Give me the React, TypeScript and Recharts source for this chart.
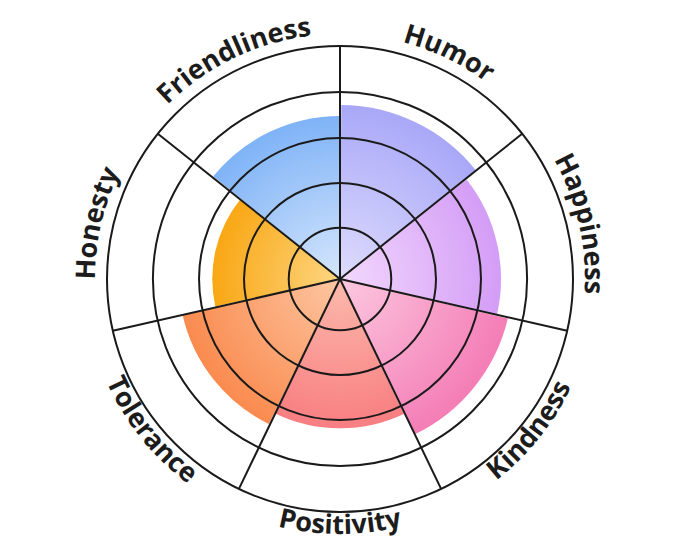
import {
  RadialBarChart,
  RadialBar,
  PolarAngleAxis,
  PolarRadiusAxis,
  PolarGrid,
  Sector,
} from "recharts";

const traits = ["Humor", "Happiness", "Kindness", "Positivity", "Tolerance", "Honesty", "Friendliness"];
const scores = [74.7, 69.1, 74, 64.1, 69.3, 54.8, 70];
const outerColors = ["#a9a8f8", "#d49df6", "#f47db6", "#f87e82", "#fa8b4f", "#f9a714", "#7fb3f7"];
const innerColors = ["#dedcfc", "#f2d8fd", "#fcc9e0", "#fcbaac", "#fdc6a2", "#fdd682", "#d6e6fc"];
// grid rings, same 0-100 units as the scores
const rings = [22, 41.2, 60.5, 80.3, 100];

const CX = 340;
const CY = 279;
const OUTER = 233;
const RAD = Math.PI / 180;

const rows = traits.map((name, i) => ({ name, value: scores[i] }));
const step = 360 / traits.length;
const spokes = traits.map((_, i) => 90 - i * step);

const pt = (cx: number, cy: number, r: number, a: number) =>
  `${cx + r * Math.cos(a * RAD)} ${cy - r * Math.sin(a * RAD)}`;

// label written along the rim; upper half reads clockwise, lower half counter-clockwise
function CurvedTick(props: any) {
  const { payload, index } = props;
  const cx = props.cx ?? CX;
  const cy = props.cy ?? CY;
  const a = payload.coordinate;
  const lower = Math.sin(a * RAD) < -0.2;
  const r = lower ? 255 : 245;
  const h = 60;
  const d = lower
    ? `M ${pt(cx, cy, r, a - h)} A ${r} ${r} 0 0 0 ${pt(cx, cy, r, a + h)}`
    : `M ${pt(cx, cy, r, a + h)} A ${r} ${r} 0 0 1 ${pt(cx, cy, r, a - h)}`;
  const id = `rim-label-${index}`;
  return (
    <g>
      <path id={id} d={d} fill="none" stroke="none" />
      <text fontFamily="'Open Sans', sans-serif" fontWeight={700} fontSize={27} fill="#1c1c1c">
        <textPath href={`#${id}`} startOffset="50%" textAnchor="middle">
          {payload.value}
        </textPath>
      </text>
    </g>
  );
}

function Segment(props: any) {
  const { cx, cy, outerRadius, index } = props;
  const id = `seg-grad-${index}`;
  return (
    <g>
      <defs>
        <radialGradient id={id} gradientUnits="userSpaceOnUse" cx={cx} cy={cy} r={outerRadius}>
          <stop offset="0%" stopColor={innerColors[index]} />
          <stop offset="100%" stopColor={outerColors[index]} />
        </radialGradient>
      </defs>
      <Sector {...props} fill={`url(#${id})`} stroke="none" />
    </g>
  );
}

const layer = { position: "absolute" as const, left: 0, top: 0 };

export default function App() {
  return (
    <div style={{ position: "absolute", left: 0, top: 0, width: 680, height: 557, background: "#fff" }}>
      {/* colored petals */}
      <div style={layer}>
        <RadialBarChart
          width={680}
          height={557}
          cx={CX}
          cy={CY}
          innerRadius={0}
          outerRadius={OUTER}
          startAngle={90 - step}
          endAngle={90 - step - 360}
          layout="centric"
          barCategoryGap={0}
          data={rows}
        >
          <PolarAngleAxis type="category" dataKey="name" axisLine={false} tickLine={false} tick={false} />
          <PolarRadiusAxis type="number" domain={[0, 100]} tick={false} axisLine={false} />
          <RadialBar dataKey="value" isAnimationActive={false} shape={(p: any) => <Segment {...p} />} />
        </RadialBarChart>
      </div>
      {/* grid and rim labels drawn over the petals */}
      <div style={layer}>
        <RadialBarChart
          width={680}
          height={557}
          cx={CX}
          cy={CY}
          innerRadius={0}
          outerRadius={OUTER}
          startAngle={90 - step / 2}
          endAngle={90 - step / 2 - 360}
          layout="centric"
          data={rows}
        >
          <PolarGrid
            gridType="circle"
            polarAngles={spokes}
            polarRadius={rings.map((v) => (v / 100) * OUTER)}
            stroke="#1a1a1a"
            strokeWidth={2}
            strokeOpacity={1}
          />
          <PolarAngleAxis
            type="category"
            dataKey="name"
            axisLine={false}
            tickLine={false}
            tick={(p: any) => <CurvedTick {...p} />}
          />
          <PolarRadiusAxis type="number" domain={[0, 100]} tick={false} axisLine={false} />
        </RadialBarChart>
      </div>
    </div>
  );
}
